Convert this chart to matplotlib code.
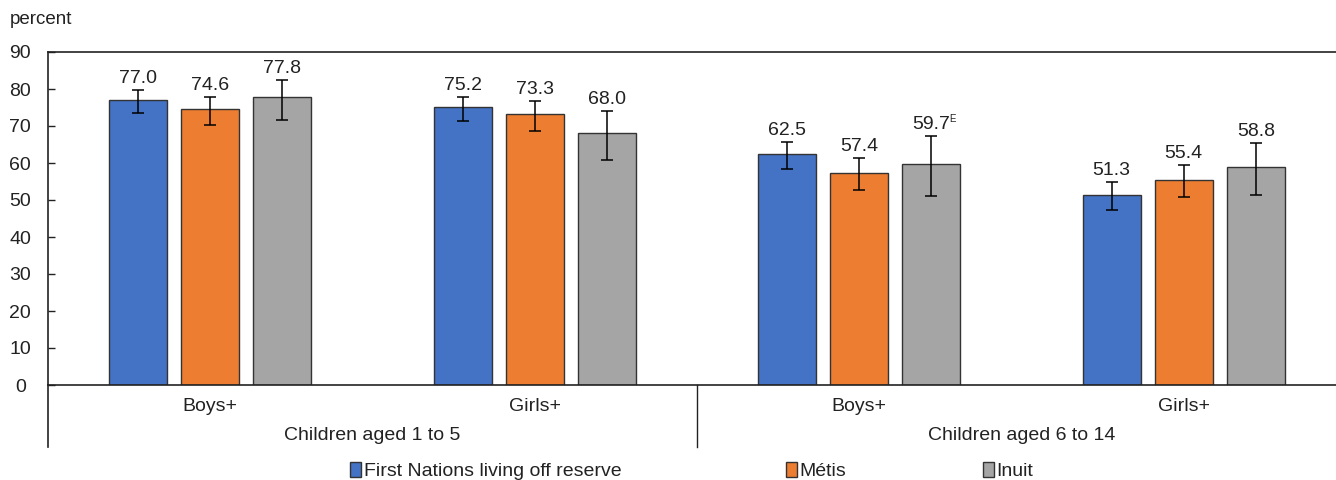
import matplotlib.pyplot as plt
import matplotlib.transforms as mtransforms
import numpy as np

plt.rcParams['font.family'] = ['Liberation Sans', 'DejaVu Sans']

# Data
subgroups = ['Boys+', 'Girls+', 'Boys+', 'Girls+']
age_groups = ['Children aged 1 to 5', 'Children aged 6 to 14']
series = ['First Nations living off reserve', 'Métis', 'Inuit']
colors = ['#4472C4', '#ED7D31', '#A5A5A5']

values = [
    [77.0, 75.2, 62.5, 51.3],
    [74.6, 73.3, 57.4, 55.4],
    [77.8, 68.0, 59.7, 58.8],
]
# confidence interval bounds
ci_low = [
    [73.4, 71.4, 58.3, 47.2],
    [70.4, 68.7, 52.7, 50.7],
    [71.6, 60.7, 51.2, 51.4],
]
ci_high = [
    [79.7, 77.9, 65.8, 55.0],
    [77.9, 76.8, 61.4, 59.5],
    [82.5, 74.1, 67.2, 65.3],
]
flags = [
    ['', '', '', ''],
    ['', '', '', ''],
    ['', '', 'E', ''],
]

txt = '#222222'
fig = plt.figure(figsize=(13.36, 4.8), dpi=100)
ax = fig.add_axes([48 / 1336, 95 / 480, 1298 / 1336, 333 / 480])

x = np.arange(len(subgroups))
width = 0.179
step = 0.222
bars = []
for i, s in enumerate(series):
    xs = x + (i - 1) * step
    v = np.array(values[i])
    lo = v - np.array(ci_low[i])
    hi = np.array(ci_high[i]) - v
    b = ax.bar(xs, v, width, color=colors[i], edgecolor='#333333', linewidth=1.0,
               label=s, zorder=2)
    bars.append(b)
    ax.errorbar(xs, v, yerr=[lo, hi], fmt='none', ecolor='black', elinewidth=1.1,
                capsize=4, capthick=1.1, zorder=3)
    for xx, top, val, fl in zip(xs, ci_high[i], v, flags[i]):
        ax.annotate(f'{val:.1f}', (xx, top), xytext=(0, 5), textcoords='offset points',
                    ha='center', va='baseline', fontsize=14, color=txt)
        if fl:
            ax.annotate(fl, (xx, top), xytext=(13, 10.5), textcoords='offset points',
                        ha='left', va='baseline', fontsize=7, color=txt)

ax.set_xlim(-0.5, 3.5)
ax.set_ylim(0, 90)
ax.set_yticks(range(0, 91, 10))
ax.tick_params(axis='y', labelsize=14, direction='in', length=5, width=1,
               colors=txt, pad=20)
ax.tick_params(axis='x', bottom=False, labelbottom=False)
for sp in ['left', 'top', 'bottom']:
    ax.spines[sp].set_color(txt)
    ax.spines[sp].set_linewidth(1.2)
ax.spines['right'].set_visible(False)
for lab in ax.get_yticklabels():
    lab.set_horizontalalignment('center')

# category axis labels
trans = mtransforms.blended_transform_factory(ax.transData, ax.transAxes)
for xi, s in zip(x, subgroups):
    ax.text(xi, -0.066, s, transform=trans, ha='center', va='center',
            fontsize=14, color=txt)
for k, g in enumerate(age_groups):
    ax.text(0.5 + 2 * k, -0.153, g, transform=trans, ha='center', va='center',
            fontsize=14, color=txt)
ax.plot([-0.5, -0.5], [0, -0.186], transform=trans, color=txt, lw=1.2, clip_on=False)
ax.plot([1.5, 1.5], [0, -0.186], transform=trans, color=txt, lw=1.0, clip_on=False)

fig.text(10 / 1336, 1 - 20 / 480, 'percent', ha='left', va='center', fontsize=13.5,
         color=txt)

# legend entries placed separately
leg_x = [350 / 1336, 786 / 1336, 983 / 1336]
for b, s, lx in zip(bars, series, leg_x):
    fig.legend([b], [s], loc='center left', bbox_to_anchor=(lx, 1 - 471 / 480),
               frameon=False, fontsize=14, handlelength=0.55, handleheight=0.85,
               handletextpad=0.15, borderaxespad=0, borderpad=0, labelcolor=txt)

fig.savefig('out.png', dpi=100)
